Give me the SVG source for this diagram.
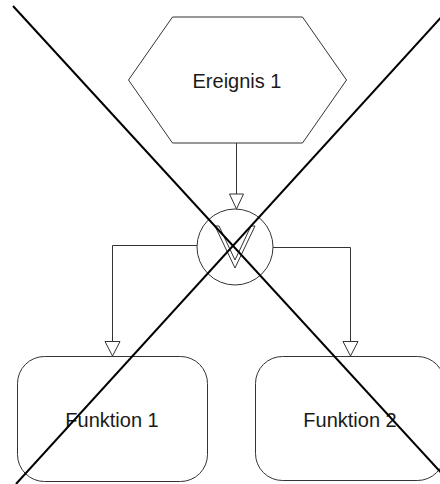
<svg xmlns="http://www.w3.org/2000/svg" width="440" height="484" viewBox="0 0 440 484">
<style>
.shape{fill:#fff;stroke:#333;stroke-width:1}
.conn{fill:none;stroke:#333;stroke-width:1}
.head{fill:#fff;stroke:#333;stroke-width:1}
.lbl{font-family:"Liberation Sans",Arial,sans-serif;font-size:20px;fill:#1a1a1a;text-anchor:middle}
.cross{stroke:#000;stroke-width:2;fill:none}
</style>
<rect width="440" height="484" fill="#fff"/>
<g id="ereignis1">
<polygon class="shape" points="172.5,17 302.5,17 346.5,80 302.5,143 172.5,143 128.5,80"/>
<text class="lbl" x="237" y="88">Ereignis 1</text>
</g>
<g id="or-connector">
<circle class="shape" cx="235" cy="247" r="38"/>
<polygon class="shape" points="215,226 235,268 255,226 251,226 235,260 219,226"/>
</g>
<g id="funktion1">
<rect class="shape" x="17.5" y="356.5" width="190" height="125" rx="27" ry="27"/>
<text class="lbl" x="112" y="427">Funktion 1</text>
</g>
<g id="funktion2">
<rect class="shape" x="255.5" y="356.5" width="189" height="124" rx="27" ry="27"/>
<text class="lbl" x="350" y="427">Funktion 2</text>
</g>
<g id="connectors">
<path class="conn" d="M236.5,143 V194"/>
<polygon class="head" points="229.5,194 243.5,194 236.5,209"/>
<path class="conn" d="M197,245.5 H112.5 V341.5"/>
<polygon class="head" points="105,341.5 120,341.5 112.5,356"/>
<path class="conn" d="M273,247.5 H350.5 V341.5"/>
<polygon class="head" points="343,341.5 358,341.5 350.5,356"/>
</g>
<g id="cross">
<line class="cross" x1="13" y1="6" x2="446" y2="478"/>
<line class="cross" x1="446" y1="12" x2="16" y2="484"/>
</g>
</svg>
